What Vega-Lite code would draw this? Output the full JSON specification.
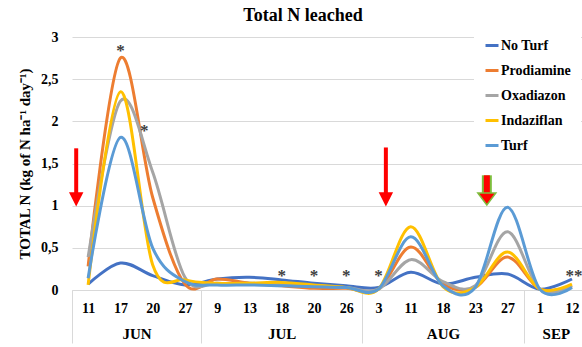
{
  "$schema": "https://vega.github.io/schema/vega-lite/v6.json",
  "width": 510,
  "height": 253,
  "autosize": {"type": "none"},
  "padding": {"left": 72, "top": 37, "right": 0, "bottom": 57},
  "background": "white",
  "title": {"text": "Total N leached", "font": "Liberation Serif", "fontSize": 18, "fontWeight": "bold", "color": "black", "anchor": "middle", "dx": -24, "offset": 3},
  "datasets": {
    "leach": [
      {"i": 0, "month": "JUN", "day": "11", "series": "No Turf", "n": 0.07},
      {"i": 1, "month": "JUN", "day": "17", "series": "No Turf", "n": 0.32},
      {"i": 2, "month": "JUN", "day": "20", "series": "No Turf", "n": 0.17},
      {"i": 3, "month": "JUN", "day": "27", "series": "No Turf", "n": 0.06},
      {"i": 4, "month": "JUL", "day": "9", "series": "No Turf", "n": 0.13},
      {"i": 5, "month": "JUL", "day": "13", "series": "No Turf", "n": 0.15},
      {"i": 6, "month": "JUL", "day": "18", "series": "No Turf", "n": 0.12},
      {"i": 7, "month": "JUL", "day": "20", "series": "No Turf", "n": 0.08},
      {"i": 8, "month": "JUL", "day": "26", "series": "No Turf", "n": 0.05},
      {"i": 9, "month": "AUG", "day": "3", "series": "No Turf", "n": 0.03},
      {"i": 10, "month": "AUG", "day": "11", "series": "No Turf", "n": 0.21},
      {"i": 11, "month": "AUG", "day": "18", "series": "No Turf", "n": 0.07},
      {"i": 12, "month": "AUG", "day": "23", "series": "No Turf", "n": 0.15},
      {"i": 13, "month": "AUG", "day": "27", "series": "No Turf", "n": 0.19},
      {"i": 14, "month": "SEP", "day": "1", "series": "No Turf", "n": 0.01},
      {"i": 15, "month": "SEP", "day": "12", "series": "No Turf", "n": 0.13},
      {"i": 0, "month": "JUN", "day": "11", "series": "Prodiamine", "n": 0.28},
      {"i": 1, "month": "JUN", "day": "17", "series": "Prodiamine", "n": 2.75},
      {"i": 2, "month": "JUN", "day": "20", "series": "Prodiamine", "n": 1.1},
      {"i": 3, "month": "JUN", "day": "27", "series": "Prodiamine", "n": 0.07},
      {"i": 4, "month": "JUL", "day": "9", "series": "Prodiamine", "n": 0.13},
      {"i": 5, "month": "JUL", "day": "13", "series": "Prodiamine", "n": 0.08},
      {"i": 6, "month": "JUL", "day": "18", "series": "Prodiamine", "n": 0.05},
      {"i": 7, "month": "JUL", "day": "20", "series": "Prodiamine", "n": 0.02},
      {"i": 8, "month": "JUL", "day": "26", "series": "Prodiamine", "n": 0.02},
      {"i": 9, "month": "AUG", "day": "3", "series": "Prodiamine", "n": 0.01},
      {"i": 10, "month": "AUG", "day": "11", "series": "Prodiamine", "n": 0.51},
      {"i": 11, "month": "AUG", "day": "18", "series": "Prodiamine", "n": 0.07},
      {"i": 12, "month": "AUG", "day": "23", "series": "Prodiamine", "n": 0.03},
      {"i": 13, "month": "AUG", "day": "27", "series": "Prodiamine", "n": 0.39},
      {"i": 14, "month": "SEP", "day": "1", "series": "Prodiamine", "n": 0.01},
      {"i": 15, "month": "SEP", "day": "12", "series": "Prodiamine", "n": 0.05},
      {"i": 0, "month": "JUN", "day": "11", "series": "Oxadiazon", "n": 0.39},
      {"i": 1, "month": "JUN", "day": "17", "series": "Oxadiazon", "n": 2.24},
      {"i": 2, "month": "JUN", "day": "20", "series": "Oxadiazon", "n": 1.4},
      {"i": 3, "month": "JUN", "day": "27", "series": "Oxadiazon", "n": 0.15},
      {"i": 4, "month": "JUL", "day": "9", "series": "Oxadiazon", "n": 0.08},
      {"i": 5, "month": "JUL", "day": "13", "series": "Oxadiazon", "n": 0.08},
      {"i": 6, "month": "JUL", "day": "18", "series": "Oxadiazon", "n": 0.07},
      {"i": 7, "month": "JUL", "day": "20", "series": "Oxadiazon", "n": 0.05},
      {"i": 8, "month": "JUL", "day": "26", "series": "Oxadiazon", "n": 0.03},
      {"i": 9, "month": "AUG", "day": "3", "series": "Oxadiazon", "n": 0.01},
      {"i": 10, "month": "AUG", "day": "11", "series": "Oxadiazon", "n": 0.36},
      {"i": 11, "month": "AUG", "day": "18", "series": "Oxadiazon", "n": 0.1},
      {"i": 12, "month": "AUG", "day": "23", "series": "Oxadiazon", "n": 0.05},
      {"i": 13, "month": "AUG", "day": "27", "series": "Oxadiazon", "n": 0.69},
      {"i": 14, "month": "SEP", "day": "1", "series": "Oxadiazon", "n": 0.01},
      {"i": 15, "month": "SEP", "day": "12", "series": "Oxadiazon", "n": 0.05},
      {"i": 0, "month": "JUN", "day": "11", "series": "Indaziflan", "n": 0.06},
      {"i": 1, "month": "JUN", "day": "17", "series": "Indaziflan", "n": 2.35},
      {"i": 2, "month": "JUN", "day": "20", "series": "Indaziflan", "n": 0.3},
      {"i": 3, "month": "JUN", "day": "27", "series": "Indaziflan", "n": 0.12},
      {"i": 4, "month": "JUL", "day": "9", "series": "Indaziflan", "n": 0.08},
      {"i": 5, "month": "JUL", "day": "13", "series": "Indaziflan", "n": 0.08},
      {"i": 6, "month": "JUL", "day": "18", "series": "Indaziflan", "n": 0.09},
      {"i": 7, "month": "JUL", "day": "20", "series": "Indaziflan", "n": 0.06},
      {"i": 8, "month": "JUL", "day": "26", "series": "Indaziflan", "n": 0.03},
      {"i": 9, "month": "AUG", "day": "3", "series": "Indaziflan", "n": 0.01},
      {"i": 10, "month": "AUG", "day": "11", "series": "Indaziflan", "n": 0.75},
      {"i": 11, "month": "AUG", "day": "18", "series": "Indaziflan", "n": 0.04},
      {"i": 12, "month": "AUG", "day": "23", "series": "Indaziflan", "n": 0.03},
      {"i": 13, "month": "AUG", "day": "27", "series": "Indaziflan", "n": 0.45},
      {"i": 14, "month": "SEP", "day": "1", "series": "Indaziflan", "n": 0.01},
      {"i": 15, "month": "SEP", "day": "12", "series": "Indaziflan", "n": 0.07},
      {"i": 0, "month": "JUN", "day": "11", "series": "Turf", "n": 0.14},
      {"i": 1, "month": "JUN", "day": "17", "series": "Turf", "n": 1.81},
      {"i": 2, "month": "JUN", "day": "20", "series": "Turf", "n": 0.5},
      {"i": 3, "month": "JUN", "day": "27", "series": "Turf", "n": 0.1},
      {"i": 4, "month": "JUL", "day": "9", "series": "Turf", "n": 0.06},
      {"i": 5, "month": "JUL", "day": "13", "series": "Turf", "n": 0.06},
      {"i": 6, "month": "JUL", "day": "18", "series": "Turf", "n": 0.05},
      {"i": 7, "month": "JUL", "day": "20", "series": "Turf", "n": 0.04},
      {"i": 8, "month": "JUL", "day": "26", "series": "Turf", "n": 0.03},
      {"i": 9, "month": "AUG", "day": "3", "series": "Turf", "n": 0.01},
      {"i": 10, "month": "AUG", "day": "11", "series": "Turf", "n": 0.63},
      {"i": 11, "month": "AUG", "day": "18", "series": "Turf", "n": 0.05},
      {"i": 12, "month": "AUG", "day": "23", "series": "Turf", "n": 0.03},
      {"i": 13, "month": "AUG", "day": "27", "series": "Turf", "n": 0.98},
      {"i": 14, "month": "SEP", "day": "1", "series": "Turf", "n": 0.01},
      {"i": 15, "month": "SEP", "day": "12", "series": "Turf", "n": 0.03}
    ],
    "stars": [
      {"i": 1, "n": 2.87, "t": "*"},
      {"i": 1.74, "n": 1.92, "t": "*"},
      {"i": 6, "n": 0.2, "t": "*"},
      {"i": 7, "n": 0.2, "t": "*"},
      {"i": 8, "n": 0.2, "t": "*"},
      {"i": 9, "n": 0.2, "t": "*"},
      {"i": 15.06, "n": 0.2, "t": "**"}
    ],
    "arrows": [
      {"i": -0.37, "top": 1.68, "base": 1.15, "head": 1.08, "kind": "red"},
      {"i": 9.23, "top": 1.69, "base": 1.15, "head": 1.08, "kind": "red"},
      {"i": 12.36, "top": 1.36, "base": 1.15, "head": 1.08, "kind": "green"}
    ]
  },
  "layer": [
    {
      "data": {"name": "leach"},
      "mark": {"type": "line", "interpolate": "cardinal", "strokeWidth": 3},
      "encoding": {
        "x": {
          "field": "i", "type": "quantitative",
          "scale": {"domain": [-0.5, 15.31], "nice": false, "zero": false},
          "axis": {
            "orient": "bottom", "title": null, "grid": false, "ticks": false,
            "values": [0, 1, 2, 3, 4, 5, 6, 7, 8, 9, 10, 11, 12, 13, 14, 15],
            "labelExpr": "['11','17','20','27','9','13','18','20','26','3','11','18','23','27','1','12'][datum.value]",
            "labelFontSize": 14, "labelPadding": 11, "labelFlush": false, "labelOverlap": false, "labelBound": false,
            "domain": true, "domainColor": "#D9D9D9", "domainWidth": 1
          }
        },
        "y": {
          "field": "n", "type": "quantitative",
          "scale": {"domain": [0, 3], "nice": false, "zero": true},
          "axis": {
            "orient": "left",
            "title": "TOTAL N (kg of N ha⁻¹ day⁻¹)", "titleFontSize": 15, "titlePadding": 8,
            "values": [0, 0.5, 1, 1.5, 2, 2.5, 3], "format": ".2~f",
            "labelExpr": "replace(datum.label, '.', ',')",
            "labelFontSize": 14, "labelPadding": 14, "domain": false, "ticks": false,
            "grid": true, "gridColor": "#D9D9D9", "gridWidth": 1
          }
        },
        "color": {
          "field": "series", "type": "nominal",
          "scale": {"domain": ["No Turf", "Prodiamine", "Oxadiazon", "Indaziflan", "Turf"], "range": ["#4472C4", "#ED7D31", "#A5A5A5", "#FFC000", "#5B9BD5"]},
          "legend": {
            "orient": "none", "legendX": 402, "legendY": -9.5, "title": null,
            "symbolType": "stroke", "symbolStrokeWidth": 3, "symbolSize": 169,
            "labelFont": "Liberation Serif", "labelFontWeight": "bold", "labelFontSize": 14, "labelColor": "black",
            "labelOffset": 1, "rowPadding": 10, "padding": 10, "fillColor": "white"
          }
        }
      }
    },
    {
      "data": {"name": "stars"},
      "mark": {"type": "text", "font": "Liberation Serif", "fontWeight": "bold", "fontSize": 17, "color": "#404040", "baseline": "middle", "align": "center", "dy": 3},
      "encoding": {
        "x": {
          "field": "i", "type": "quantitative",
          "axis": {
            "orient": "bottom", "title": null, "grid": false, "labels": false, "domain": false,
            "values": [-0.5, 3.5, 8.5, 13.5], "ticks": true, "tickSize": 53, "tickColor": "#D9D9D9", "tickWidth": 1
          }
        },
        "y": {"field": "n", "type": "quantitative", "axis": null},
        "text": {"field": "t"}
      }
    },
    {
      "data": {"name": "arrows"},
      "transform": [{"filter": "datum.kind === 'red'"}],
      "mark": {"type": "rule", "color": "#FF0000", "strokeWidth": 4},
      "encoding": {
        "x": {
          "field": "i", "type": "quantitative",
          "axis": {
            "orient": "bottom", "title": null, "grid": false, "ticks": false, "domain": false,
            "values": [1.5, 6, 11, 14.5],
            "labelExpr": "datum.value < 3 ? 'JUN' : datum.value < 8 ? 'JUL' : datum.value < 13 ? 'AUG' : 'SEP'",
            "labelFontSize": 15, "labelPadding": 36, "labelFlush": false, "labelOverlap": false, "labelBound": false
          }
        },
        "y": {"field": "top", "type": "quantitative", "axis": null},
        "y2": {"field": "base"}
      }
    },
    {
      "data": {"name": "arrows"},
      "transform": [{"filter": "datum.kind === 'green'"}],
      "mark": {"type": "rule", "color": "#7DBE3C", "strokeWidth": 10},
      "encoding": {
        "x": {"field": "i", "type": "quantitative", "axis": null},
        "y": {"field": "top", "type": "quantitative", "axis": null},
        "y2": {"field": "base"}
      }
    },
    {
      "data": {"name": "arrows"},
      "transform": [{"filter": "datum.kind === 'green'"}],
      "mark": {"type": "rule", "color": "#FF0000", "strokeWidth": 6},
      "encoding": {
        "x": {"field": "i", "type": "quantitative", "axis": null},
        "y": {"field": "top", "type": "quantitative", "axis": null},
        "y2": {"field": "base"}
      }
    },
    {
      "data": {"name": "arrows"},
      "mark": {"type": "point", "filled": true, "fill": "#FF0000", "fillOpacity": 1, "strokeWidth": 1.5, "opacity": 1},
      "encoding": {
        "x": {"field": "i", "type": "quantitative", "axis": null},
        "y": {"field": "head", "type": "quantitative", "axis": null},
        "shape": {"condition": {"test": "datum.kind === 'green'", "value": "M-1,-0.67L1,-0.67L0,0.67Z"}, "value": "M-1,-1L1,-1L0,1Z"},
        "size": {"condition": {"test": "datum.kind === 'green'", "value": 324}, "value": 144},
        "stroke": {"condition": {"test": "datum.kind === 'green'", "value": "#7DBE3C"}, "value": "#FF0000"}
      }
    }
  ],
  "resolve": {"axis": {"x": "independent", "y": "independent"}},
  "config": {
    "view": {"stroke": null},
    "axis": {
      "labelFont": "Liberation Serif", "labelFontWeight": "bold", "labelColor": "black",
      "titleFont": "Liberation Serif", "titleFontWeight": "bold", "titleColor": "black"
    }
  }
}
